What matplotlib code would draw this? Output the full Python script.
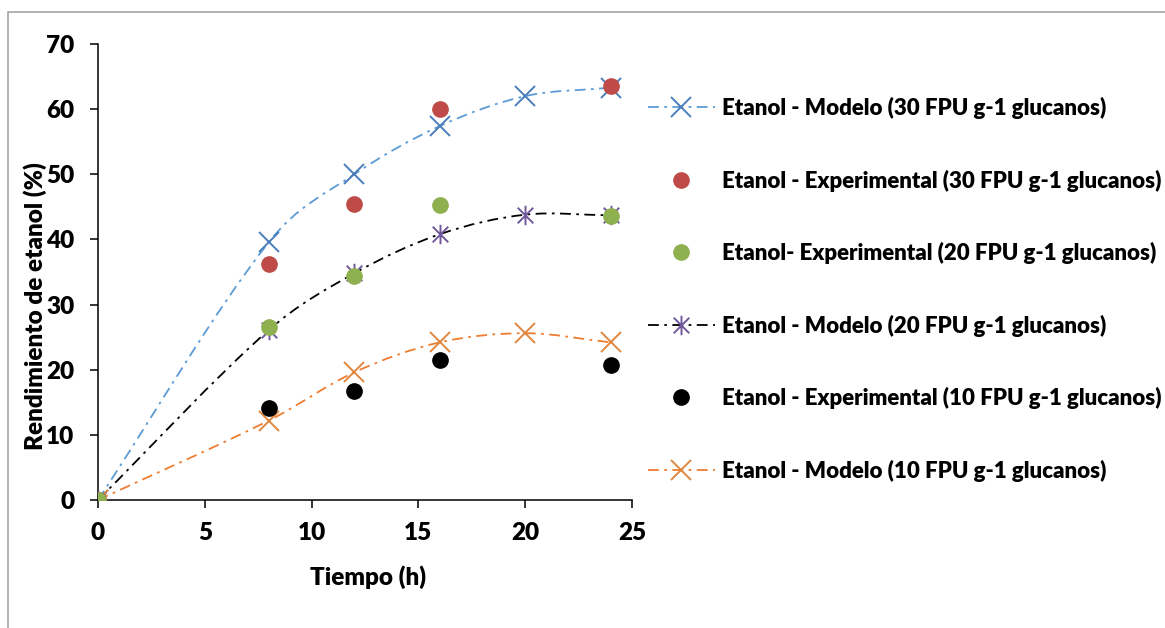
import numpy as np
import matplotlib
matplotlib.use('Agg')
import matplotlib.pyplot as plt
from matplotlib.path import Path
from matplotlib.patches import PathPatch, Rectangle
from matplotlib.lines import Line2D

plt.rcParams['font.family'] = ['Lato', 'DejaVu Sans']
W = 'heavy'
plt.rcParams['font.weight'] = W

# data
t_model = [0, 8, 12, 16, 20, 24]
t_exp = [0, 8, 12, 16, 24]

model_30 = [0, 39.6, 50.0, 57.4, 62.0, 63.3]
model_20 = [0, 26.1, 34.8, 40.8, 43.8, 43.7]
model_10 = [0, 12.2, 19.6, 24.2, 25.6, 24.2]

exp_30 = [0, 36.3, 45.4, 60.0, 63.5]
exp_20 = [0, 26.5, 34.4, 45.3, 43.6]
exp_10 = [0, 14.1, 16.8, 21.5, 20.7]

labels = ['Etanol - Modelo (30 FPU g-1 glucanos)',
          'Etanol - Experimental (30 FPU g-1 glucanos)',
          'Etanol- Experimental (20 FPU g-1 glucanos)',
          'Etanol - Modelo (20 FPU g-1 glucanos)',
          'Etanol - Experimental (10 FPU g-1 glucanos)',
          'Etanol - Modelo (10 FPU g-1 glucanos)']

dash = (0, (6, 3, 1.5, 3))

# excel-like star marker: an X with a vertical bar
star = Path([(-1, -1), (1, 1), (-1, 1), (1, -1), (0, -1.25), (0, 1.25)],
            [Path.MOVETO, Path.LINETO, Path.MOVETO, Path.LINETO, Path.MOVETO, Path.LINETO])


def smooth_path(xs, ys):
    # cubic hermite through the points (tangents scaled by x spacing), drawn as bezier
    x = np.asarray(xs, float)
    y = np.asarray(ys, float)
    n = len(x)
    m = np.zeros(n)
    for i in range(n):
        a = max(i - 1, 0)
        b = min(i + 1, n - 1)
        m[i] = (y[b] - y[a]) / (x[b] - x[a])
    verts = [(x[0], y[0])]
    codes = [Path.MOVETO]
    for i in range(n - 1):
        h = x[i + 1] - x[i]
        verts += [(x[i] + h / 3, y[i] + m[i] * h / 3),
                  (x[i + 1] - h / 3, y[i + 1] - m[i + 1] * h / 3),
                  (x[i + 1], y[i + 1])]
        codes += [Path.CURVE4] * 3
    return Path(verts, codes)


fig = plt.figure(figsize=(11.65, 6.28), dpi=100)
ax = fig.add_axes([98 / 1165, 1 - 500 / 628, 534 / 1165, 456 / 628])

models = [
    (model_30, '#5B9BD5', '#4A7EBB', 'x'),
    (model_20, '#000000', '#70589A', star),
    (model_10, '#ED7D31', '#E0873F', 'x'),
]
for ys, lc, mc, mk in models:
    ax.add_patch(PathPatch(smooth_path(t_model, ys), fill=False, edgecolor=lc,
                           lw=1.3, linestyle=dash, zorder=2))
    ax.plot(t_model, ys, ls='none', marker=mk, ms=14, mew=1.4, color=mc, zorder=3)

exps = [(exp_10, '#000000'), (exp_30, '#BE4B48'), (exp_20, '#8FB04F')]
for ys, c in exps:
    ax.plot(t_exp, ys, ls='none', marker='o', ms=11, color=c, mec=c, zorder=4)

ax.set_xlim(0, 25)
ax.set_ylim(0, 70)
ax.set_xticks(range(0, 26, 5))
ax.set_yticks(range(0, 71, 10))
for s in ['top', 'right']:
    ax.spines[s].set_visible(False)
for s in ['left', 'bottom']:
    ax.spines[s].set_linewidth(1.1)
ax.tick_params(direction='out', length=6, width=1.1, labelsize=17.5)
ax.tick_params(axis='y', pad=11)
ax.tick_params(axis='x', pad=10)
for lab in ax.get_xticklabels() + ax.get_yticklabels():
    lab.set_fontweight(W)

fig.text(368 / 1165, 1 - 577 / 628, 'Tiempo (h)', ha='center', va='center',
         fontsize=17.5, fontweight=W)
fig.text(35 / 1165, 1 - 306 / 628, 'Rendimiento de etanol (%)', ha='center', va='center',
         rotation=90, fontsize=17.5, fontweight=W)

handles = [
    Line2D([], [], color='#5B9BD5', ls=dash, lw=1.3, marker='x', ms=14, mew=1.4, mec='#4A7EBB'),
    Line2D([], [], ls='none', marker='o', ms=11, color='#BE4B48'),
    Line2D([], [], ls='none', marker='o', ms=11, color='#8FB04F'),
    Line2D([], [], color='#000000', ls=dash, lw=1.3, marker=star, ms=14, mew=1.4, mec='#70589A'),
    Line2D([], [], ls='none', marker='o', ms=11, color='#000000'),
    Line2D([], [], color='#ED7D31', ls=dash, lw=1.3, marker='x', ms=14, mew=1.4, mec='#E0873F'),
]
fig.legend(handles, labels, loc='upper left', bbox_to_anchor=(648 / 1165, 1 - 97 / 628),
           bbox_transform=fig.transFigure, frameon=False, borderpad=0, borderaxespad=0,
           handlelength=3.0, handletextpad=0.35, labelspacing=2.27, numpoints=1,
           prop={'size': 16, 'weight': W})

# light grey chart-area border (cut off at right and bottom)
fig.patches.append(Rectangle((8 / 1165, -0.1), 1.2, 1 - 12 / 628 + 0.1, transform=fig.transFigure,
                             fill=False, edgecolor='#A6A6A6', lw=1.2))

fig.savefig('out.png', dpi=100)
